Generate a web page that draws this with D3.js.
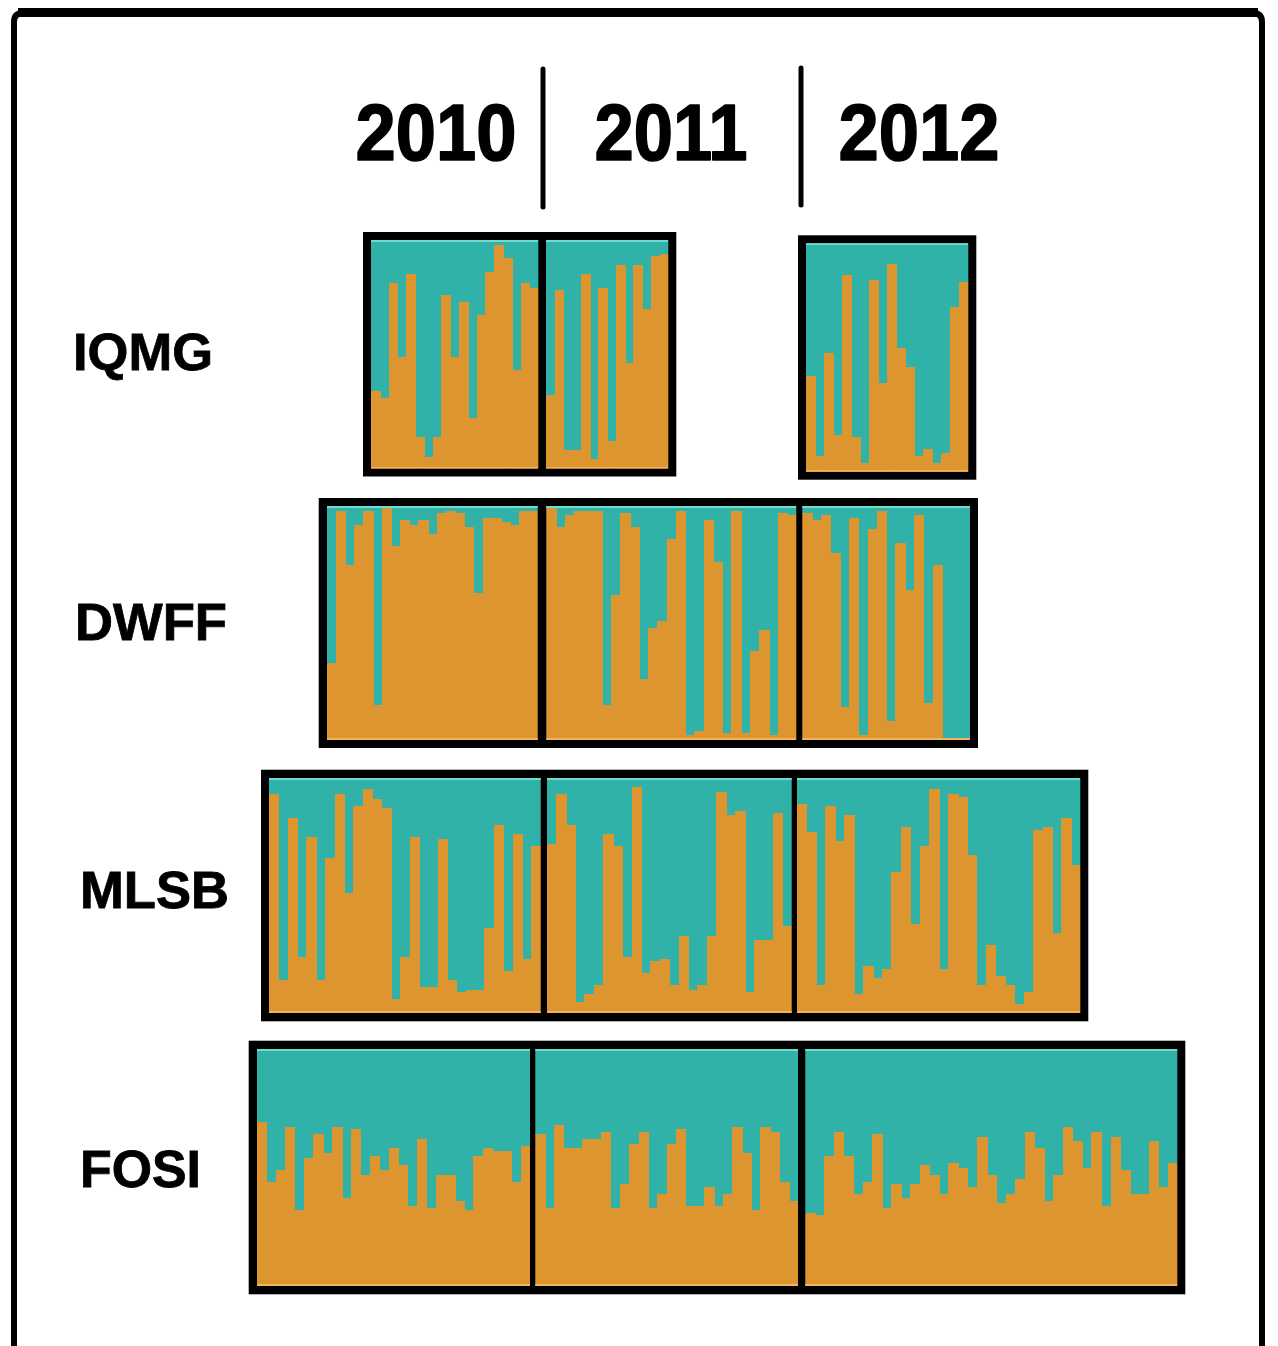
<!DOCTYPE html>
<html>
<head>
<meta charset="utf-8">
<script src="https://cdn.jsdelivr.net/npm/d3@7"></script>
<style>
  html, body { margin: 0; padding: 0; background: #fff; }
  svg { display: block; }
</style>
</head>
<body>
<svg id="chart" width="1278" height="1346"></svg>
<script>
// ---------------- DATA (orange = cluster 1 membership, teal = 1 - value) ----------------
const years = ["2010", "2011", "2012"];
const populations = ["IQMG", "DWFF", "MLSB", "FOSI"];

const IQMG_2010 = [0.34,0.31,0.81,0.49,0.85,0.14,0.05,0.14,0.76,0.49,0.73,0.22,0.67,0.86,0.98,0.92,0.43,0.81,0.79];
const IQMG_2011 = [0.32,0.78,0.08,0.08,0.85,0.04,0.79,0.12,0.89,0.46,0.89,0.70,0.93,0.94];
const IQMG_2012 = [0.42,0.07,0.52,0.16,0.86,0.15,0.04,0.84,0.39,0.91,0.54,0.46,0.07,0.10,0.04,0.08,0.72,0.83];

const DWFF_2010 = [0.33,0.98,0.75,0.92,0.98,0.15,0.99,0.83,0.94,0.92,0.94,0.88,0.97,0.98,0.97,0.91,0.63,0.95,0.95,0.93,0.92,0.98,0.98];
const DWFF_2011 = [0.99,0.91,0.96,0.98,0.98,0.98,0.15,0.62,0.97,0.91,0.26,0.48,0.51,0.86,0.98,0.02,0.04,0.94,0.76,0.03,0.98,0.03,0.38,0.47,0.02,0.97,0.96];
const DWFF_2012 = [0.97,0.94,0.96,0.80,0.14,0.95,0.02,0.90,0.98,0.08,0.84,0.64,0.96,0.16,0.75,0.01,0.01,0.01];

const MLSB_2010 = [0.93,0.14,0.83,0.24,0.75,0.14,0.66,0.93,0.51,0.88,0.95,0.91,0.87,0.06,0.24,0.75,0.11,0.11,0.74,0.14,0.09,0.10,0.10,0.36,0.80,0.18,0.76,0.23,0.71];
const MLSB_2011 = [0.72,0.93,0.80,0.05,0.08,0.12,0.76,0.71,0.24,0.96,0.17,0.22,0.23,0.12,0.33,0.10,0.12,0.33,0.94,0.84,0.86,0.09,0.31,0.31,0.85,0.37];
const MLSB_2012 = [0.89,0.77,0.12,0.88,0.73,0.84,0.08,0.20,0.15,0.19,0.60,0.79,0.38,0.71,0.95,0.19,0.93,0.92,0.67,0.12,0.29,0.16,0.12,0.04,0.09,0.78,0.79,0.34,0.83,0.63];

const FOSI_2010 = [0.69,0.44,0.49,0.67,0.32,0.54,0.64,0.56,0.67,0.37,0.66,0.47,0.55,0.49,0.58,0.51,0.34,0.62,0.33,0.47,0.47,0.36,0.32,0.55,0.58,0.57,0.57,0.44,0.59];
const FOSI_2011 = [0.64,0.33,0.68,0.58,0.58,0.62,0.62,0.65,0.33,0.43,0.60,0.65,0.33,0.39,0.60,0.66,0.34,0.34,0.42,0.34,0.39,0.67,0.56,0.32,0.67,0.65,0.44,0.36];
const FOSI_2012 = [0.31,0.30,0.55,0.65,0.55,0.39,0.44,0.64,0.33,0.43,0.37,0.43,0.51,0.47,0.39,0.52,0.50,0.42,0.63,0.47,0.35,0.39,0.45,0.65,0.58,0.36,0.47,0.67,0.61,0.50,0.65,0.34,0.63,0.49,0.39,0.39,0.61,0.42,0.52];

// ---------------- LAYOUT (positions only) ----------------
const COLORS = { teal: "#31b2a8", orange: "#dd962f", frame: "#000" };
const BORDER = 8;

const layout = [
  { pop: "IQMG", labelX: 73, labelW: 140, baseline: 370, y0: 240, y1: 468.5,
    groups: [
      [ { year: "2010", data: IQMG_2010, x0: 371, x1: 538.3 },
        { year: "2011", data: IQMG_2011, x0: 546, x1: 668.3 } ],
      [ { year: "2012", data: IQMG_2012, x0: 806, x1: 968.3, y0: 243.3, y1: 471.7 } ]
    ] },
  { pop: "DWFF", labelX: 75, labelW: 152, baseline: 640, y0: 506, y1: 740,
    groups: [
      [ { year: "2010", data: DWFF_2010, x0: 326.7, x1: 537.7 },
        { year: "2011", data: DWFF_2011, x0: 546.3, x1: 796.3 },
        { year: "2012", data: DWFF_2012, x0: 802.3, x1: 970 } ]
    ] },
  { pop: "MLSB", labelX: 80, labelW: 149, baseline: 908, y0: 777.7, y1: 1013.3,
    groups: [
      [ { year: "2010", data: MLSB_2010, x0: 269, x1: 540.7 },
        { year: "2011", data: MLSB_2011, x0: 546.7, x1: 791.7 },
        { year: "2012", data: MLSB_2012, x0: 797, x1: 1080.3 } ]
    ] },
  { pop: "FOSI", labelX: 80, labelW: 121, baseline: 1187, y0: 1048.7, y1: 1286.3,
    groups: [
      [ { year: "2010", data: FOSI_2010, x0: 256.7, x1: 530 },
        { year: "2011", data: FOSI_2011, x0: 535.3, x1: 798 },
        { year: "2012", data: FOSI_2012, x0: 805.3, x1: 1177.3 } ]
    ] }
];

const yearHeader = [
  { year: "2010", cx: 436, w: 161 },
  { year: "2011", cx: 671, w: 153 },
  { year: "2012", cx: 919, w: 161 }
];
const headerDividers = [ { x: 543, y0: 69, y1: 207 }, { x: 801, y0: 68, y1: 205 } ];

// ---------------- DRAW ----------------
const svg = d3.select("#chart");
const FONT = "'Liberation Sans', Arial, Helvetica, sans-serif";

// outer figure frame (open at the bottom, rounded top corners)
svg.append("path")
  .attr("d", "M14,1350 L14,22 Q14,13 23,13 L1253,13 Q1262,13 1262,22 L1262,1350")
  .attr("fill", "none").attr("stroke", "#000").attr("stroke-width", 6);
svg.append("rect").attr("x", 18).attr("y", 8).attr("width", 1240).attr("height", 9).attr("fill", "#000");

// year header
svg.selectAll("text.year").data(yearHeader).join("text")
  .attr("class", "year")
  .attr("x", d => d.cx).attr("y", 160)
  .attr("text-anchor", "middle")
  .attr("font-family", FONT).attr("font-weight", "bold").attr("font-size", 80)
  .attr("textLength", d => d.w).attr("lengthAdjust", "spacingAndGlyphs")
  .attr("fill", "#000").attr("stroke", "#000").attr("stroke-width", 1.6)
  .attr("stroke-linejoin", "round")
  .text(d => d.year);

svg.selectAll("line.hdiv").data(headerDividers).join("line")
  .attr("class", "hdiv")
  .attr("x1", d => d.x).attr("x2", d => d.x)
  .attr("y1", d => d.y0).attr("y2", d => d.y1)
  .attr("stroke", "#000").attr("stroke-width", 5).attr("stroke-linecap", "round");

// population rows
layout.forEach(row => {
  const g = svg.append("g").attr("class", "row-" + row.pop);

  g.append("text")
    .attr("x", row.labelX).attr("y", row.baseline)
    .attr("font-family", FONT).attr("font-weight", "bold").attr("font-size", 52)
    .attr("textLength", row.labelW).attr("lengthAdjust", "spacingAndGlyphs")
    .attr("fill", "#000").attr("stroke", "#000").attr("stroke-width", 0.8)
    .text(row.pop);

  row.groups.forEach(group => {
    const gy0 = d3.min(group, b => b.y0 ?? row.y0);
    const gy1 = d3.max(group, b => b.y1 ?? row.y1);
    const gx0 = d3.min(group, b => b.x0);
    const gx1 = d3.max(group, b => b.x1);

    // black frame behind the block(s)
    g.append("rect")
      .attr("x", gx0 - BORDER).attr("y", gy0 - BORDER)
      .attr("width", gx1 - gx0 + 2 * BORDER).attr("height", gy1 - gy0 + 2 * BORDER)
      .attr("fill", COLORS.frame);

    group.forEach(block => {
      const by0 = block.y0 ?? row.y0;
      const by1 = block.y1 ?? row.y1;
      const idx = d3.range(block.data.length);
      const x = d3.scaleBand().domain(idx).range([block.x0, block.x1]).padding(0);
      const y = d3.scaleLinear().domain([0, 1]).range([by1, by0]);
      const bw = x.bandwidth();

      const clipId = "clip-" + row.pop + "-" + block.year;
      g.append("clipPath").attr("id", clipId)
        .append("rect").attr("x", block.x0).attr("y", by0)
        .attr("width", block.x1 - block.x0).attr("height", by1 - by0);

      const bg = g.append("g").attr("clip-path", "url(#" + clipId + ")")
        .attr("shape-rendering", "crispEdges");

      // teal part (top): from value to 1
      bg.selectAll("rect.teal").data(block.data).join("rect")
        .attr("class", "teal")
        .attr("x", (d, i) => x(i)).attr("width", bw + 1)
        .attr("y", y(1)).attr("height", d => y(d) - y(1) + 0.5)
        .attr("fill", COLORS.teal);

      // orange part (bottom): from 0 to value
      bg.selectAll("rect.orange").data(block.data).join("rect")
        .attr("class", "orange")
        .attr("x", (d, i) => x(i)).attr("width", bw + 1)
        .attr("y", d => y(d)).attr("height", d => y(0) - y(d))
        .attr("fill", COLORS.orange);

      // thin light edges (top/bottom highlight of the original figure)
      bg.append("line")
        .attr("x1", block.x0).attr("x2", block.x1)
        .attr("y1", by0 + 1).attr("y2", by0 + 1)
        .attr("stroke", "#6fdcd2").attr("stroke-width", 2);
      bg.append("line")
        .attr("x1", block.x0).attr("x2", block.x1)
        .attr("y1", by1 - 1).attr("y2", by1 - 1)
        .attr("stroke", "#f3b45a").attr("stroke-width", 2);
    });
  });
});
</script>
</body>
</html>
